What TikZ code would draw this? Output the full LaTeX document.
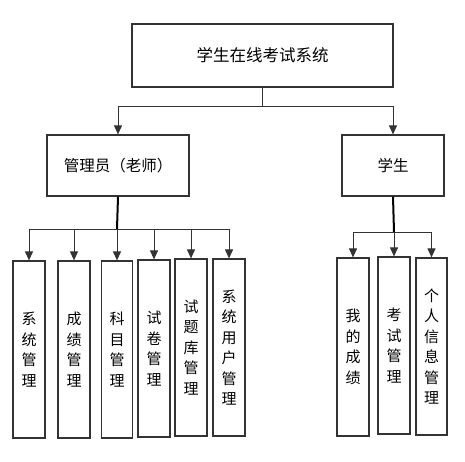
\documentclass[tikz,border=0pt]{standalone}
\usepackage{fontspec}
\newfontfamily\cjk{Noto Sans CJK SC}
\usetikzlibrary{arrows.meta}
\begin{document}
\begin{tikzpicture}[x=1pt,y=-1pt,
  box/.style={draw=black!80,line width=1.2pt,rectangle,inner sep=0pt,font=\cjk\fontsize{15.5}{20}\selectfont},
  vbox/.style={box,minimum width=32pt,minimum height=177pt,align=center,font=\cjk\fontsize{15}{20.5}\selectfont},
  conn/.style={draw=black!80,line width=1pt},
  arr/.style={conn,-{Triangle[width=8pt,length=9pt]}},
  stem/.style={draw=black,line width=2pt}]
\useasboundingbox (0,0) rectangle (465,461);
\node[box,minimum width=261pt,minimum height=63pt,font=\cjk\fontsize{16.5}{20}\selectfont] (top) at (262.5,55.5) {学生在线考试系统};
\node[box,minimum width=142pt,minimum height=61pt] (admin) at (118,165.5) {管理员（老师）};
\node[box,minimum width=102pt,minimum height=61pt] (stu) at (393,165.5) {学生};
\node[vbox] (a1) at (29,349.5) {系\\统\\管\\理};
\node[vbox] (a2) at (74,349.5) {成\\绩\\管\\理};
\node[vbox,minimum width=31pt] (a3) at (117,349.5) {科\\目\\管\\理};
\node[vbox] (a4) at (154,348.5) {试\\卷\\管\\理};
\node[vbox] (a5) at (191,347.5) {试\\题\\库\\管\\理};
\node[vbox] (a6) at (229,347.5) {系\\统\\用\\户\\管\\理};
\node[vbox,minimum height=178pt] (s1) at (353,347) {我\\的\\成\\绩};
\node[vbox] (s2) at (394,345.5) {考\\试\\管\\理};
\node[vbox,minimum width=31pt] (s3) at (431.5,346.5) {个\\人\\信\\息\\管\\理};
\coordinate (tj) at (262.5,106);
\coordinate (aj) at (117,229);
\coordinate (sj) at (394,232);
\draw[conn] (top.south) -- (tj);
\draw[arr] (tj) -| (admin.north);
\draw[arr] (tj) -| (stu.north);
\draw[stem] (admin.south) -- (aj);
\foreach \n in {a1,a2,a3,a4,a5,a6} \draw[arr] (aj) -| (\n.north);
\draw[stem] (stu.south) -- (sj);
\foreach \n in {s1,s2,s3} \draw[arr] (sj) -| (\n.north);
\end{tikzpicture}
\end{document}
